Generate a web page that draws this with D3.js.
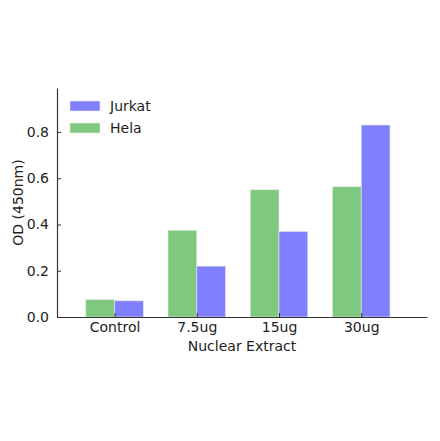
<!DOCTYPE html>
<html>
<head>
<meta charset="utf-8">
<script src="https://cdn.jsdelivr.net/npm/d3@7"></script>
<style>
  body { margin: 0; background: #fff; }
  text { font-family: "DejaVu Sans", sans-serif; fill: #222; }
</style>
</head>
<body>
<div id="chart"></div>
<script>
const categories = ['Control', '7.5ug', '15ug', '30ug'];
const helaValues = [0.075, 0.375, 0.55, 0.563];
const jurkatValues = [0.07, 0.22, 0.37, 0.83];
const yTicks = [0.0, 0.2, 0.4, 0.6, 0.8];
const seriesNames = ['Jurkat', 'Hela'];
const seriesColors = {Jurkat: '#8080ff', Hela: '#7fc97f'};

const W = 440, H = 441;
const margin = {left: 57, right: 13, top: 88, bottom: 124};
const plotW = W - margin.left - margin.right;
const plotH = H - margin.top - margin.bottom;
const barWidth = 0.35;

const svg = d3.select('#chart').append('svg')
  .attr('width', W)
  .attr('height', H);

const g = svg.append('g')
  .attr('transform', 'translate(' + margin.left + ',' + margin.top + ')');

// matplotlib-like numeric x scale: groups at 0..3
const x = d3.scaleLinear().domain([-0.7, 3.8]).range([0, plotW]);
const y = d3.scaleLinear().domain([0, 0.99]).range([plotH, 0]);

function drawBars(values, offset, color) {
  g.append('g')
    .selectAll('rect')
    .data(values)
    .enter()
    .append('rect')
    .attr('x', function(d, i) { return x(i + offset); })
    .attr('y', function(d) { return y(d); })
    .attr('width', x(barWidth) - x(0))
    .attr('height', function(d) { return y(0) - y(d); })
    .attr('fill', color)
    .attr('stroke', '#e8e8e8')
    .attr('stroke-width', 0.6);
}

drawBars(helaValues, -barWidth, seriesColors.Hela);
drawBars(jurkatValues, 0, seriesColors.Jurkat);

// y axis
const yAxis = d3.axisLeft(y)
  .tickValues(yTicks)
  .tickFormat(d3.format('.1f'))
  .tickSizeInner(-4)
  .tickSizeOuter(0)
  .tickPadding(8);
const yAxisG = g.append('g').call(yAxis);
yAxisG.select('.domain').attr('stroke', '#333').attr('stroke-width', 1.2);
yAxisG.selectAll('.tick line').attr('stroke', '#333');
yAxisG.selectAll('.tick text').attr('font-size', 14).attr('fill', '#222');

// x axis
const xAxis = d3.axisBottom(x)
  .tickValues(d3.range(categories.length))
  .tickFormat(function(d) { return categories[d]; })
  .tickSizeInner(-4)
  .tickSizeOuter(0)
  .tickPadding(5);
const xAxisG = g.append('g')
  .attr('transform', 'translate(0,' + plotH + ')')
  .call(xAxis);
xAxisG.select('.domain').attr('stroke', '#333').attr('stroke-width', 1.2);
xAxisG.selectAll('.tick line').attr('stroke', '#333');
xAxisG.selectAll('.tick text').attr('font-size', 14).attr('fill', '#222');

// axis labels
svg.append('text')
  .attr('x', margin.left + plotW / 2)
  .attr('y', 351)
  .attr('text-anchor', 'middle')
  .attr('font-size', 14)
  .text('Nuclear Extract');

svg.append('text')
  .attr('transform', 'translate(23,' + (margin.top + plotH / 2) + ') rotate(-90)')
  .attr('text-anchor', 'middle')
  .attr('font-size', 14)
  .text('OD (450nm)');

// legend
const legend = svg.append('g').attr('transform', 'translate(70,101)');
seriesNames.forEach(function(name, i) {
  legend.append('rect')
    .attr('x', 0)
    .attr('y', i * 22)
    .attr('width', 30)
    .attr('height', 10)
    .attr('fill', seriesColors[name])
    .attr('stroke', '#e8e8e8')
    .attr('stroke-width', 0.6);
  legend.append('text')
    .attr('x', 40)
    .attr('y', i * 22 + 10)
    .attr('font-size', 14)
    .text(name);
});
</script>
</body>
</html>
